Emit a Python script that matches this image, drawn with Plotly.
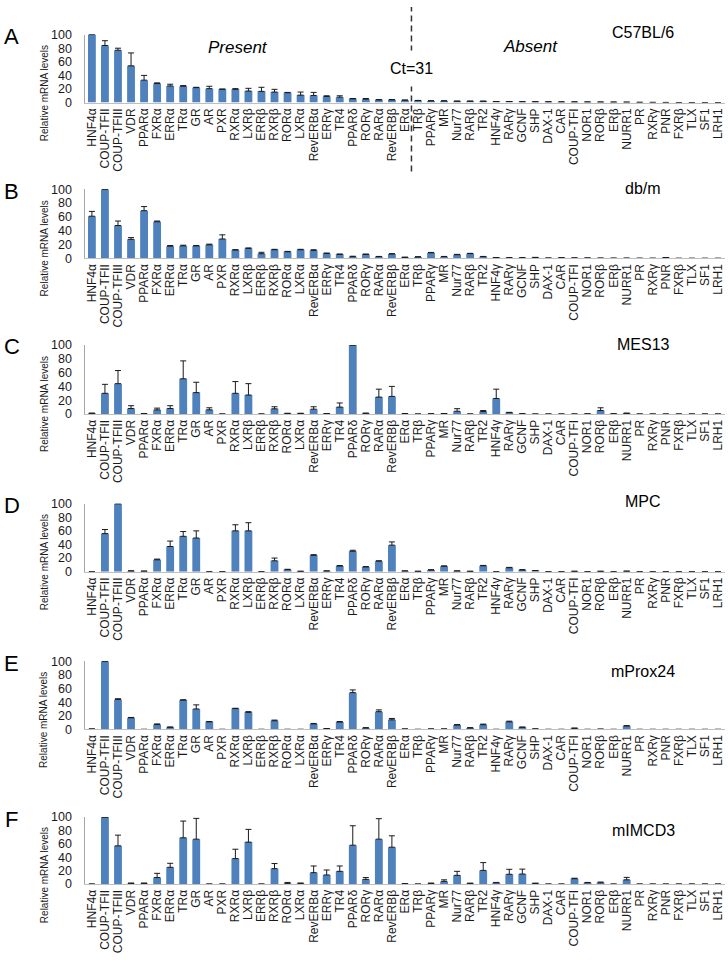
import plotly.graph_objects as go

W, H = 728, 963

categories = ["HNF4α", "COUP-TFII", "COUP-TFIII", "VDR", "PPARα", "FXRα", "ERRα", "TRα", "GR", "AR",
              "PXR", "RXRα", "LXRβ", "ERRβ", "RXRβ", "RORα", "LXRα", "RevERBα", "ERRγ", "TR4",
              "PPARδ", "RORγ", "RARα", "RevERBβ", "ERα", "TRβ", "PPARγ", "MR", "Nur77", "RARβ",
              "TR2", "HNF4γ", "RARγ", "GCNF", "SHP", "DAX-1", "CAR", "COUP-TFI", "NOR1", "RORβ",
              "ERβ", "NURR1", "PR", "RXRγ", "PNR", "FXRβ", "TLX", "SF1", "LRH1"]

panel_letters = ["A", "B", "C", "D", "E", "F"]
cell_lines = ["C57BL/6", "db/m", "MES13", "MPC", "mProx24", "mIMCD3"]
y_ticks = [0, 20, 40, 60, 80, 100]

vals_c57bl6 = [100, 84, 77, 54, 33, 28, 24.5, 24, 22, 20.5,
               19.5, 19.5, 17, 16.5, 15.5, 14.5, 11, 10.5, 9, 8,
               5.5, 5, 4, 4, 3.5, 3, 2.5, 2.5, 2, 2,
               2, 1.5, 1.5, 1.3, 1.2, 1.1, 1.0, 1.0, 0.9, 0.8,
               0.7, 0.6, 0.4, 0.3, 0.2, 0.1, 0.1, 0.1, 0.1]
err_c57bl6 = [0.5, 7, 3, 19, 7, 1, 2.5, 1, 0.5, 3.5,
              0.5, 1, 4, 6, 4, 0.5, 4.5, 4.5, 1, 2,
              0.5, 1, 0.5, 0.5, 0.3, 0.2, 0.2, 0.2, 0.2, 0.2,
              0.1, 0.1, 0.1, 0.1, 0.1, 0.1, 0.1, 0.1, 0.1, 0.1,
              0.1, 0.1, 0, 0, 0, 0, 0, 0, 0]

vals_dbm = [61, 100, 47.5, 27.5, 69, 53, 17.5, 18, 18, 19.5,
            28, 12, 14.3, 6.7, 12.4, 9.5, 12.4, 11.4, 7, 5.7,
            2.4, 5.7, 2.4, 6.2, 1.4, 2, 8, 2.4, 5.2, 6.7,
            2.4, 1, 0.8, 0.8, 1.2, 0.4, 0.8, 0.6, 0.5, 0.3,
            0.2, 0.2, 0.1, 0.1, 1.0, 0, 0, 0, 0]
err_dbm = [7, 0, 6.5, 2.5, 6, 1, 1, 1, 0.6, 1,
           6, 0.5, 0.7, 2, 0.6, 0.5, 0.6, 1, 0.6, 0.5,
           0.6, 0.4, 0.3, 0.5, 0.2, 0.3, 0.5, 0.3, 0.5, 0.5,
           0.3, 0.1, 0.1, 0.1, 0.1, 0, 0.1, 0, 0, 0,
           0, 0, 0, 0, 0.1, 0, 0, 0, 0]

vals_mes13 = [1, 30, 44, 8, 0.5, 6, 8, 51, 31, 6,
              0, 30, 27.5, 0, 7.5, 0.8, 0.8, 7, 0.5, 10,
              100, 1, 24.5, 25.5, 0.5, 0, 0.3, 0.6, 4, 0,
              3.5, 22.5, 2, 0.4, 0, 0, 0, 0, 0.2, 5,
              0.3, 1, 0, 0, 0, 0, 0, 0, 0]
err_mes13 = [0.2, 13, 19, 4, 0.1, 2.5, 4, 26, 15, 3,
             0, 17, 16.5, 0, 3, 0.2, 0.2, 3.5, 0.1, 6,
             0, 0.2, 11.5, 14.5, 0.1, 0, 0, 0.1, 3.7, 0,
             1.5, 13.5, 0.4, 0, 0, 0, 0, 0, 0, 4,
             0, 0.2, 0, 0, 0, 0, 0, 0, 0]

vals_mpc = [0, 56, 100, 1, 0.7, 17.5, 37, 52, 49.5, 0,
            0, 60, 60, 0, 16, 3, 0.5, 24, 1, 8.3,
            30, 7, 15.5, 39, 1, 0.5, 2.4, 8, 1, 0.5,
            8.7, 0, 5.8, 2.4, 1.5, 0, 0, 0.5, 0, 0.5,
            0, 0.7, 0, 0, 0, 0, 0, 0, 0]
err_mpc = [0, 6, 0, 0.3, 0.2, 1, 8, 7, 10.5, 0,
           0, 9, 12, 0, 4, 0.5, 0.1, 1, 0.2, 0.7,
           1.5, 0.5, 0.5, 4.7, 0.2, 0.1, 0.5, 0.5, 0.2, 0.1,
           0.5, 0, 0.5, 0.6, 0.2, 0, 0, 0.1, 0, 0.1,
           0, 0.1, 0, 0, 0, 0, 0, 0, 0]

vals_mprox24 = [0.5, 100, 44, 17, 0, 7, 3, 43, 30, 11,
                0, 30.5, 25, 0, 12.6, 0, 0, 8, 1, 10.7,
                54, 2, 26, 14, 0.5, 0, 0.5, 0.5, 6.3, 2,
                6.8, 0, 11, 3, 0.6, 0, 0, 1.5, 0, 0.3,
                0, 5, 0, 0, 0, 0, 0, 0, 0]
err_mprox24 = [0.1, 0, 1, 0.5, 0, 1, 0.5, 0.5, 6, 0.5,
               0, 0.5, 1, 0, 1, 0, 0, 0.7, 0.2, 0.8,
               4, 0.5, 2.6, 2, 0.1, 0, 0.1, 0.1, 0.7, 0.5,
               0.9, 0, 1, 0.4, 0.1, 0, 0, 0.4, 0, 0,
               0, 0.4, 0, 0, 0, 0, 0, 0, 0]

vals_mimcd3 = [0, 100, 57, 1, 1, 9.7, 25, 69, 67, 0,
               0, 38, 62.6, 0, 23, 1, 1, 17, 13.6, 19,
               58, 7, 67, 55, 0.5, 0, 1, 4, 13, 1,
               20.4, 2, 14.6, 15, 1, 0, 0, 8, 2, 2,
               0, 6.3, 0, 0, 0, 0, 0, 0, 0]
err_mimcd3 = [0, 0, 16, 0.5, 0.5, 6.3, 6, 25, 31, 0,
              0, 14, 19, 0, 7.6, 1.4, 0.5, 10, 7.4, 8,
              29, 2.7, 30.6, 17, 0.1, 0, 0.4, 2.3, 6, 0.3,
              11.6, 0.4, 7.4, 7.3, 0.3, 0, 0, 0.7, 0.4, 1,
              0, 3.7, 0, 0, 0, 0, 0, 0, 0]

panels = [
    (vals_c57bl6, err_c57bl6),
    (vals_dbm, err_dbm),
    (vals_mes13, err_mes13),
    (vals_mpc, err_mpc),
    (vals_mprox24, err_mprox24),
    (vals_mimcd3, err_mimcd3),
]

# layout geometry (pixels)
zero_px = [97, 255, 413, 573, 733, 890]
top_px = [28, 185, 343, 504, 664, 822]
name_px = [26, 184, 342, 502, 674, 836]
x_left_px, x_right_px = 84.5, 724.5

BLUE = "#4F81BD"
FONT = "Liberation Sans, Arial, sans-serif"


def fx(p):
    return p / W


def fy(p):
    return 1 - p / H


fig = go.Figure()
xs = list(range(len(categories)))
annotations = []
layout_axes = {}

for i, (v, e) in enumerate(panels):
    n = "" if i == 0 else str(i + 1)
    err = [ee if ee > 0 else None for ee in e]
    fig.add_trace(go.Bar(
        x=xs, y=v, xaxis="x" + n, yaxis="y" + n, width=0.6,
        marker=dict(color=BLUE, line=dict(width=0)),
        error_y=dict(type="data", array=err, arrayminus=[0] * len(v), symmetric=False,
                     color="#1a1a1a", thickness=1, width=3),
        showlegend=False, hoverinfo="x+y",
    ))
    layout_axes["xaxis" + n] = dict(
        domain=[fx(x_left_px), fx(x_right_px)], range=[-0.5, len(categories) - 0.5],
        tickmode="array", tickvals=xs, ticktext=categories, tickangle=-90,
        tickfont=dict(size=12, color="#1a1a1a", family=FONT),
        showline=True, linecolor="#bfbfbf", linewidth=1, ticks="",
        showgrid=False, zeroline=False, anchor="y" + n,
    )
    layout_axes["yaxis" + n] = dict(
        domain=[fy(zero_px[i]), fy(top_px[i])], range=[0, 100],
        tickmode="array", tickvals=y_ticks,
        tickfont=dict(size=12.5, color="#1a1a1a", family=FONT),
        showline=True, linecolor="#a6a6a6", linewidth=1, ticks="",
        ticklabelstandoff=10,
        showgrid=False, zeroline=False, anchor="x" + n,
    )
    # panel letter
    annotations.append(dict(text=panel_letters[i], x=fx(11), y=fy(top_px[i] + 2),
                            xref="paper", yref="paper", showarrow=False,
                            xanchor="center", yanchor="middle",
                            font=dict(size=22, color="#000", family=FONT)))
    # cell line name
    annotations.append(dict(text=cell_lines[i], x=fx(643), y=fy(name_px[i]),
                            xref="paper", yref="paper", showarrow=False,
                            xanchor="center", yanchor="middle",
                            font=dict(size=16, color="#000", family=FONT)))
    # y title
    annotations.append(dict(text="Relative mRNA levels", x=fx(43),
                            y=fy((zero_px[i] + top_px[i]) / 2 + 25),
                            xref="paper", yref="paper", showarrow=False, textangle=-90,
                            xanchor="center", yanchor="middle",
                            font=dict(size=10, color="#1a1a1a", family=FONT)))

annotations.append(dict(text="<i>Present</i>", x=fx(237.5), y=fy(41.5), xref="paper", yref="paper",
                        showarrow=False, xanchor="center", yanchor="middle",
                        font=dict(size=17, color="#000", family=FONT)))
annotations.append(dict(text="<i>Absent</i>", x=fx(530), y=fy(40), xref="paper", yref="paper",
                        showarrow=False, xanchor="center", yanchor="middle",
                        font=dict(size=17, color="#000", family=FONT)))
annotations.append(dict(text="Ct=31", x=24.5, xref="x", y=fy(62.5), yref="paper",
                        showarrow=False, xanchor="center", yanchor="middle",
                        bgcolor="white", borderpad=9,
                        font=dict(size=16, color="#000", family=FONT)))

shapes = [dict(type="line", xref="x", yref="paper", x0=24.5, x1=24.5, y0=fy(167), y1=1,
               line=dict(color="#333333", width=1.5, dash="6px,4px"))]

fig.update_layout(
    width=W, height=H, margin=dict(l=0, r=0, t=0, b=0),
    paper_bgcolor="white", plot_bgcolor="white",
    bargap=0.4, annotations=annotations, shapes=shapes,
    font=dict(family=FONT),
    **layout_axes,
)

fig.write_html("out.html",
               config={"displayModeBar": False, "staticPlot": True},
               post_script="document.body.style.margin='0';document.body.style.overflow='hidden';")
